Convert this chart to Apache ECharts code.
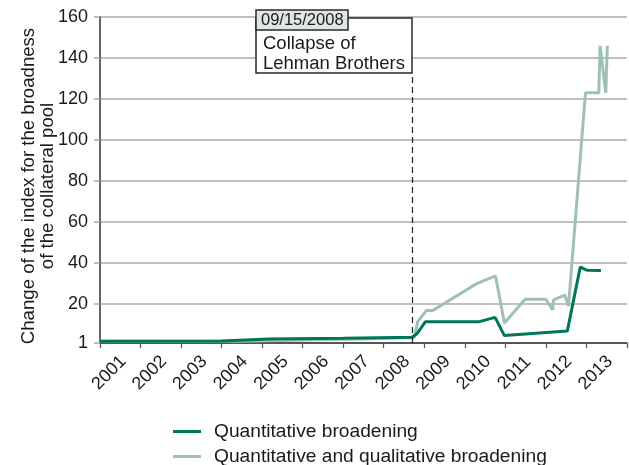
<!DOCTYPE html>
<html>
<head>
<meta charset="utf-8">
<script src="https://cdn.jsdelivr.net/npm/echarts@6/dist/echarts.min.js"></script>
<style>
  html, body { margin: 0; padding: 0; background: #ffffff; }
  #chart { width: 629px; height: 465px; }
</style>
</head>
<body>
<div id="chart"></div>
<script>
// Index of collateral pool broadness, 2001-2013
const yTickValues = [1, 20, 40, 60, 80, 100, 120, 140, 160];
const yearTicks = [2001, 2002, 2003, 2004, 2005, 2006, 2007, 2008, 2009, 2010, 2011, 2012, 2013];

const quantDates = [
  '2001-01-01', '2004-01-01', '2005-03-01', '2007-01-01', '2008-09-13',
  '2008-10-27', '2009-01-12', '2010-05-12', '2010-10-01', '2010-12-24',
  '2012-07-13', '2012-11-07', '2013-01-05', '2013-05-12'
];
const quantValues = [
  1.8, 2.0, 3.0, 3.3, 3.8,
  5.5, 11.4, 11.4, 13.5, 4.6,
  6.8, 38, 36.5, 36.3
];

const qualDates = [
  '2001-01-01', '2004-06-01', '2005-06-01', '2007-06-01', '2008-09-16',
  '2008-10-05', '2008-11-03', '2009-01-19', '2009-03-17', '2010-04-13',
  '2010-10-05', '2010-12-24', '2011-06-28', '2012-01-01', '2012-03-03',
  '2012-03-11', '2012-06-21', '2012-07-24', '2012-12-24', '2013-04-23',
  '2013-05-05', '2013-06-25', '2013-07-09'
];
const qualValues = [
  1.8, 1.8, 2.2, 3.0, 3.5,
  4.0, 11.4, 16.8, 16.8, 29.8,
  33.7, 10.8, 22.3, 22.3, 17.1,
  22, 24.4, 19, 123, 123,
  146, 123, 146
];

const lehmanDate = '2008-09-15';
const lehmanTop = 132;

const FONT = '"Liberation Sans", Arial, Helvetica, sans-serif';
const DARK = '#007559';
const LIGHT = '#9fc1b1';

// date string -> fractional year
function toYear(s) {
  const [y, m, d] = s.split('-').map(Number);
  const start = Date.UTC(y, 0, 1);
  const end = Date.UTC(y + 1, 0, 1);
  return y + (Date.UTC(y, m - 1, d) - start) / (end - start);
}
function pairs(dates, values) {
  return dates.map((d, i) => [toYear(d), values[i]]);
}

const lehmanX = toYear(lehmanDate);
const chart = echarts.init(document.getElementById('chart'), null, { renderer: 'canvas' });

chart.setOption({
  animation: false,
  textStyle: { fontFamily: FONT },
  grid: { left: 100, right: 1, top: 17, bottom: 122 },
  xAxis: {
    type: 'value',
    min: 2001,
    max: 2014,
    interval: 1,
    axisLine: { lineStyle: { color: '#333', width: 1.5 } },
    axisTick: { show: true, length: 5, lineStyle: { color: '#555', width: 1.2 } },
    splitLine: { show: false },
    axisLabel: {
      rotate: 45,
      align: 'center',
      verticalAlign: 'middle',
      margin: 39,
      padding: [26, 0, 0, 26],
      color: '#1a1a1a',
      fontSize: 18,
      fontFamily: FONT,
      formatter: v => (yearTicks.indexOf(v) >= 0 ? String(v) : '')
    }
  },
  yAxis: {
    type: 'value',
    min: 1,
    max: 160,
    name: 'Change of the index for the broadness\nof the collateral pool',
    nameLocation: 'middle',
    nameRotate: 90,
    nameGap: 43,
    nameMoveOverlap: false,
    nameTextStyle: { fontSize: 18.6, color: '#1a1a1a', lineHeight: 19, padding: [0, 12, 0, 0], fontFamily: FONT },
    axisLine: { show: true, lineStyle: { color: '#333', width: 1.5 } },
    axisTick: { show: true, length: 6, customValues: yTickValues, lineStyle: { color: '#aaa', width: 1.5 } },
    axisLabel: { customValues: yTickValues, margin: 12, color: '#1a1a1a', fontSize: 18, fontFamily: FONT },
    splitLine: { show: true, lineStyle: { color: '#aaa', width: 1.5 } }
  },
  legend: {
    orient: 'vertical',
    left: 168,
    top: 417,
    height: 60,
    itemWidth: 28,
    itemHeight: 3,
    itemGap: 6,
    data: [
      { name: 'Quantitative broadening', icon: 'rect' },
      { name: 'Quantitative and qualitative broadening', icon: 'rect' }
    ],
    textStyle: { fontSize: 19.2, color: '#1a1a1a', padding: [0, 0, 0, 8], fontFamily: FONT }
  },
  series: [
    {
      name: 'Quantitative and qualitative broadening',
      type: 'line',
      z: 2,
      symbol: 'none',
      data: pairs(qualDates, qualValues),
      lineStyle: { color: LIGHT, width: 3 },
      itemStyle: { color: LIGHT }
    },
    {
      name: 'Quantitative broadening',
      type: 'line',
      z: 3,
      symbol: 'none',
      data: pairs(quantDates, quantValues),
      lineStyle: { color: DARK, width: 3 },
      itemStyle: { color: DARK },
      markLine: {
        silent: true,
        symbol: 'none',
        label: { show: false },
        lineStyle: { color: '#222', type: [6, 4], width: 1.2 },
        data: [[{ coord: [lehmanX, 1] }, { coord: [lehmanX, lehmanTop] }]]
      }
    }
  ]
});

// Annotation box for the Lehman collapse, right edge on the dashed line
const edge = chart.convertToPixel({ gridIndex: 0 }, [lehmanX, lehmanTop]);
const right = Math.round(edge[0]);
const left = right - 156;
chart.setOption({
  graphic: [
    {
      type: 'rect',
      shape: { x: left, y: 18, width: right - left, height: 55 },
      style: { fill: '#ffffff', stroke: '#2a2a2a', lineWidth: 1.5 },
      z: 100
    },
    {
      type: 'rect',
      shape: { x: left, y: 10, width: 92, height: 20 },
      style: { fill: '#dfe7e2', stroke: '#2a2a2a', lineWidth: 1.5 },
      z: 101
    },
    {
      type: 'text',
      x: left + 5,
      y: 20.5,
      style: {
        text: '09/15/2008', fill: '#1a1a1a', font: '16.5px ' + FONT,
        textAlign: 'left', textVerticalAlign: 'middle'
      },
      z: 102
    },
    {
      type: 'text',
      x: left + 7,
      y: 34,
      style: {
        text: 'Collapse of\nLehman Brothers', fill: '#1a1a1a', font: '18.5px ' + FONT,
        lineHeight: 20, textAlign: 'left', textVerticalAlign: 'top'
      },
      z: 102
    }
  ]
});
</script>
</body>
</html>
